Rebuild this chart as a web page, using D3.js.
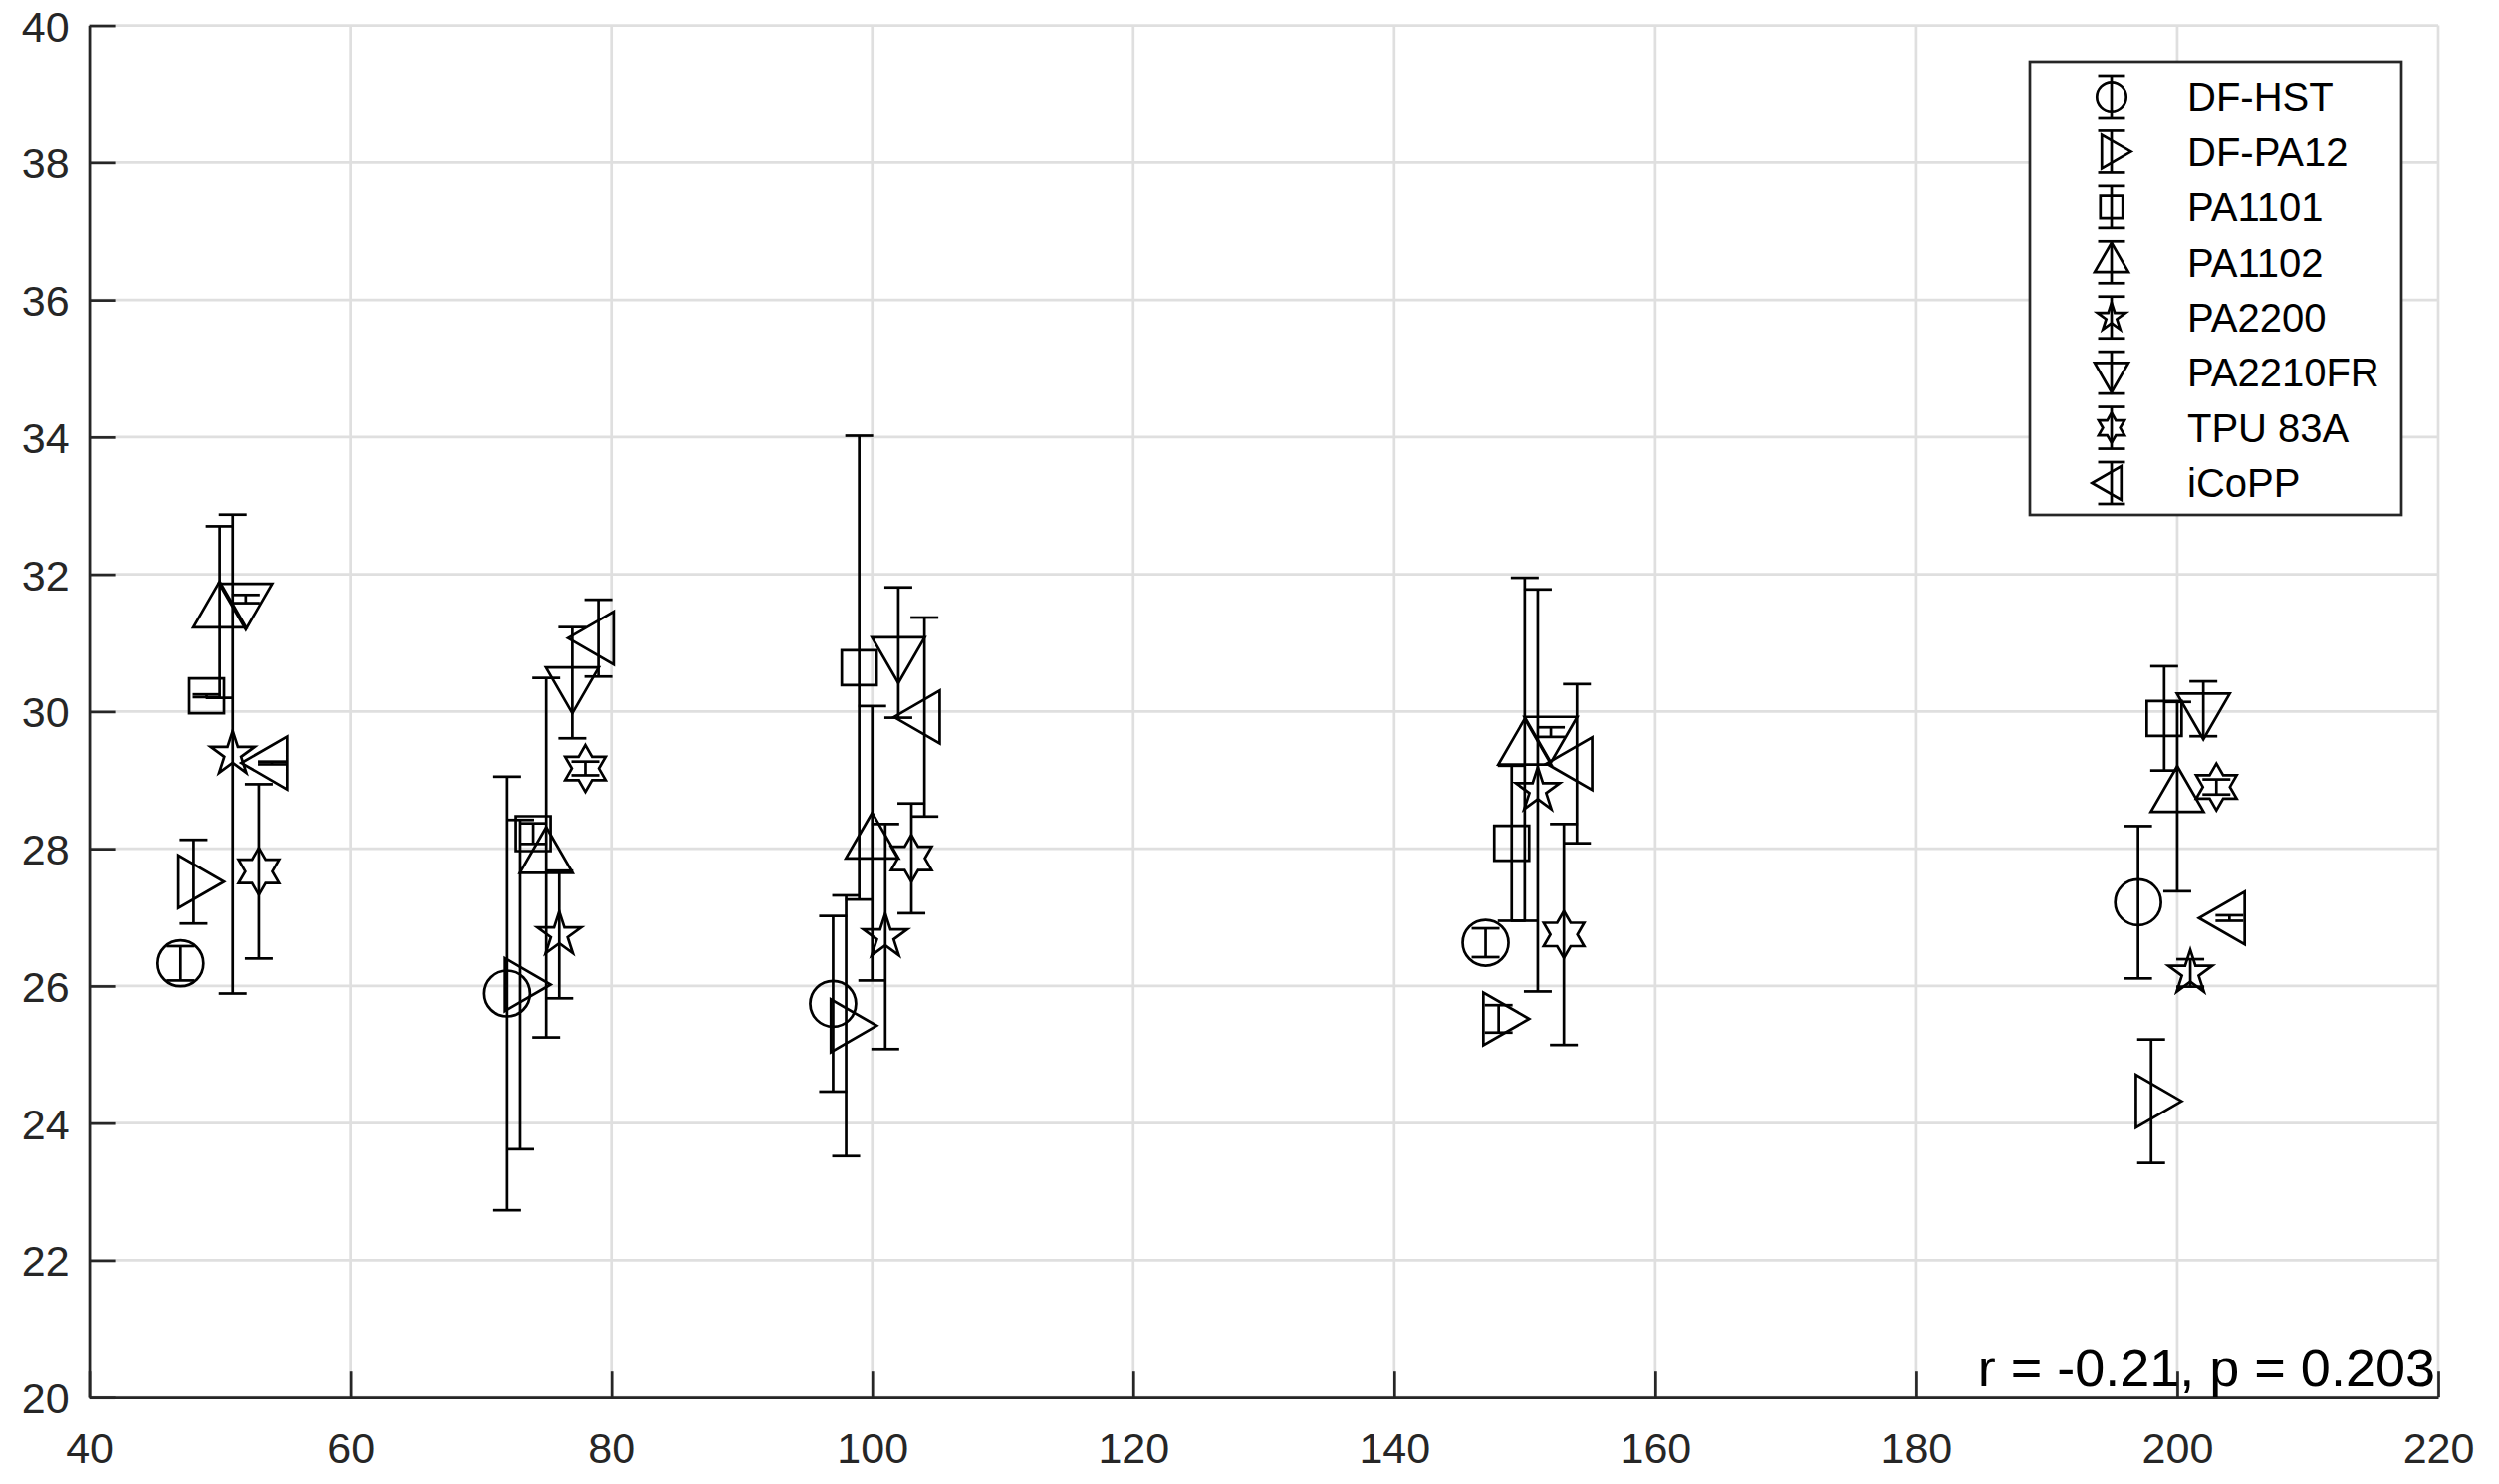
<!DOCTYPE html>
<html><head><meta charset="utf-8">
<script src="https://cdn.jsdelivr.net/npm/d3@7"></script>
<style>
body{margin:0;background:#fff}
svg{display:block}
text{font-family:"Liberation Sans",Arial,Helvetica,sans-serif}
</style>
</head><body>
<svg id="chart" width="2509" height="1490"></svg>
<script>
// ---- data ----
const seriesNames = ["DF-HST","DF-PA12","PA1101","PA1102","PA2200","PA2210FR","TPU 83A","iCoPP"];
const seriesMarkers = ["circle","triRight","square","triUp","pentagram","triDown","hexagram","triLeft"];

const xDFHST   = [47, 72, 97, 147, 197];
const xDFPA12  = [48, 73, 98, 148, 198];
const xPA1101  = [49, 74, 99, 149, 199];
const xPA1102  = [50, 75, 100, 150, 200];
const xPA2200  = [51, 76, 101, 151, 201];
const xPA2210  = [52, 77, 102, 152, 202];
const xTPU     = [53, 78, 103, 153, 203];
const xICOPP   = [54, 79, 104, 154, 204];

const meanDFHST  = [26.33, 25.89, 25.74, 26.63, 27.22];
const errDFHST   = [0.25, 3.16, 1.28, 0.21, 1.11];
const meanDFPA12 = [27.52, 26.02, 25.42, 25.52, 24.32];
const errDFPA12  = [0.61, 2.40, 1.90, 0.20, 0.90];
const meanPA1101 = [30.23, 28.22, 30.64, 28.08, 29.90];
const errPA1101  = [0.02, 0.15, 3.38, 1.13, 0.76];
const meanPA1102 = [31.45, 27.87, 28.08, 29.45, 28.76];
const errPA1102  = [1.25, 2.62, 2.00, 2.50, 1.38];
const meanPA2200 = [29.38, 26.75, 26.72, 28.85, 26.19];
const errPA2200  = [3.49, 0.93, 1.64, 2.93, 0.20];
const meanPA2210 = [31.64, 30.42, 30.86, 29.70, 30.04];
const errPA2210  = [0.06, 0.81, 0.95, 0.07, 0.40];
const meanTPU    = [27.67, 29.17, 27.86, 26.75, 28.90];
const errTPU     = [1.27, 0.10, 0.80, 1.61, 0.11];
const meanICOPP  = [29.25, 31.07, 29.92, 29.24, 26.99];
const errICOPP   = [0.02, 0.56, 1.45, 1.16, 0.04];

const xTicks = [40, 60, 80, 100, 120, 140, 160, 180, 200, 220];
const yTicks = [20, 22, 24, 26, 28, 30, 32, 34, 36, 38, 40];
const annotation = "r = -0.21, p = 0.203";

const allX = [xDFHST, xDFPA12, xPA1101, xPA1102, xPA2200, xPA2210, xTPU, xICOPP];
const allMean = [meanDFHST, meanDFPA12, meanPA1101, meanPA1102, meanPA2200, meanPA2210, meanTPU, meanICOPP];
const allErr = [errDFHST, errDFPA12, errPA1101, errPA1102, errPA2200, errPA2210, errTPU, errICOPP];

// ---- layout ----
const L = 89.6, R = 2448, T = 25.6, B = 1403.2;
const svg = d3.select("#chart");
const x = d3.scaleLinear().domain([40, 220]).range([L, R]);
const y = d3.scaleLinear().domain([20, 40]).range([B, T]);
const axisColor = "#262626";
const lw = 2.7;

// grid
const grid = svg.append("g");
grid.selectAll("line.gx").data(xTicks).join("line")
  .attr("x1", d => x(d)).attr("x2", d => x(d)).attr("y1", T).attr("y2", B)
  .attr("stroke", "#dfdfdf").attr("stroke-width", lw);
grid.selectAll("line.gy").data(yTicks).join("line")
  .attr("y1", d => y(d)).attr("y2", d => y(d)).attr("x1", L).attr("x2", R)
  .attr("stroke", "#dfdfdf").attr("stroke-width", lw);

// axes
const xAxis = d3.axisBottom(x).tickValues(xTicks).tickFormat(d3.format("d"))
  .tickSizeInner(-26).tickSizeOuter(0).tickPadding(35);
const yAxis = d3.axisLeft(y).tickValues(yTicks).tickFormat(d3.format("d"))
  .tickSizeInner(-26).tickSizeOuter(0).tickPadding(20);

const gx = svg.append("g").attr("transform", `translate(0,${B})`).call(xAxis);
const gy = svg.append("g").attr("transform", `translate(${L},0)`).call(yAxis);
[gx, gy].forEach(g => {
  g.select(".domain").attr("stroke", axisColor).attr("stroke-width", lw);
  g.selectAll(".tick line").attr("stroke", axisColor).attr("stroke-width", lw);
  g.selectAll(".tick text").attr("fill", axisColor).attr("font-size", 43)
    .attr("font-family", '"Liberation Sans",Arial,sans-serif');
});
gy.selectAll(".tick text").attr("dy", "0.36em");

// ---- marker shapes ----
function markerPath(type, s) {
  const p = d3.path();
  if (type === "circle") {
    const r = 23 * s;
    p.moveTo(r, 0); p.arc(0, 0, r, 0, Math.PI * 2); p.closePath();
    return p.toString();
  }
  if (type === "square") {
    const h = 17.5 * s;
    p.rect(-h, -h, 2 * h, 2 * h);
    return p.toString();
  }
  const side = 53 * s, cv = side / Math.sqrt(3), cb = cv / 2, hw = side / 2;
  let pts;
  if (type === "triUp") pts = [[0, -cv], [hw, cb], [-hw, cb]];
  if (type === "triDown") pts = [[0, cv], [hw, -cb], [-hw, -cb]];
  if (type === "triRight") pts = [[cv, 0], [-cb, hw], [-cb, -hw]];
  if (type === "triLeft") pts = [[-cv, 0], [cb, hw], [cb, -hw]];
  if (type === "pentagram") {
    const Ro = 23.2 * s, Ri = Ro * 0.382;
    pts = d3.range(10).map(i => {
      const a = -Math.PI / 2 + i * Math.PI / 5;
      const rr = i % 2 === 0 ? Ro : Ri;
      return [rr * Math.cos(a), rr * Math.sin(a)];
    });
  }
  if (type === "hexagram") {
    const Ro = 23.5 * s, Ri = Ro / Math.sqrt(3);
    pts = d3.range(12).map(i => {
      const a = -Math.PI / 2 + i * Math.PI / 6;
      const rr = i % 2 === 0 ? Ro : Ri;
      return [rr * Math.cos(a), rr * Math.sin(a)];
    });
  }
  p.moveTo(pts[0][0], pts[0][1]);
  pts.slice(1).forEach(q => p.lineTo(q[0], q[1]));
  p.closePath();
  return p.toString();
}

// ---- data marks ----
const plot = svg.append("g");
const capHalf = 14;
seriesNames.forEach((name, si) => {
  const data = allX[si].map((xv, i) => ({x: xv, m: allMean[si][i], e: allErr[si][i]}));
  const g = plot.append("g").attr("fill", "none").attr("stroke", "#000").attr("stroke-width", lw);
  const eb = g.selectAll("g.eb").data(data).join("g");
  eb.append("line")
    .attr("x1", d => x(d.x)).attr("x2", d => x(d.x))
    .attr("y1", d => y(d.m - d.e)).attr("y2", d => y(d.m + d.e));
  eb.append("line")
    .attr("x1", d => x(d.x) - capHalf).attr("x2", d => x(d.x) + capHalf)
    .attr("y1", d => y(d.m + d.e)).attr("y2", d => y(d.m + d.e));
  eb.append("line")
    .attr("x1", d => x(d.x) - capHalf).attr("x2", d => x(d.x) + capHalf)
    .attr("y1", d => y(d.m - d.e)).attr("y2", d => y(d.m - d.e));
  g.selectAll("path.mk").data(data).join("path")
    .attr("d", markerPath(seriesMarkers[si], 1))
    .attr("transform", d => `translate(${x(d.x)},${y(d.m)})`)
    .attr("stroke-linejoin", "miter");
});

// ---- annotation ----
svg.append("text").attr("x", 2445).attr("y", 1392)
  .attr("text-anchor", "end").attr("font-size", 54).attr("fill", "#000")
  .text(annotation);

// ---- legend ----
const lg = svg.append("g");
lg.append("rect").attr("x", 2038).attr("y", 62).attr("width", 373).attr("height", 455)
  .attr("fill", "#fff").attr("stroke", axisColor).attr("stroke-width", lw);
const rowY = d3.scalePoint().domain(seriesNames).range([97, 485]);
seriesNames.forEach((name, si) => {
  const cy = rowY(name), cx = 2120;
  const g = lg.append("g").attr("fill", "none").attr("stroke", "#000").attr("stroke-width", lw);
  g.append("line").attr("x1", cx).attr("x2", cx).attr("y1", cy - 21).attr("y2", cy + 21);
  g.append("line").attr("x1", cx - 13.5).attr("x2", cx + 13.5).attr("y1", cy - 21).attr("y2", cy - 21);
  g.append("line").attr("x1", cx - 13.5).attr("x2", cx + 13.5).attr("y1", cy + 21).attr("y2", cy + 21);
  g.append("path").attr("d", markerPath(seriesMarkers[si], 0.64))
    .attr("transform", `translate(${cx},${cy})`);
  lg.append("text").attr("x", 2196).attr("y", cy + 14.3)
    .attr("font-size", 40).attr("fill", "#000").text(name);
});
</script>
</body></html>
